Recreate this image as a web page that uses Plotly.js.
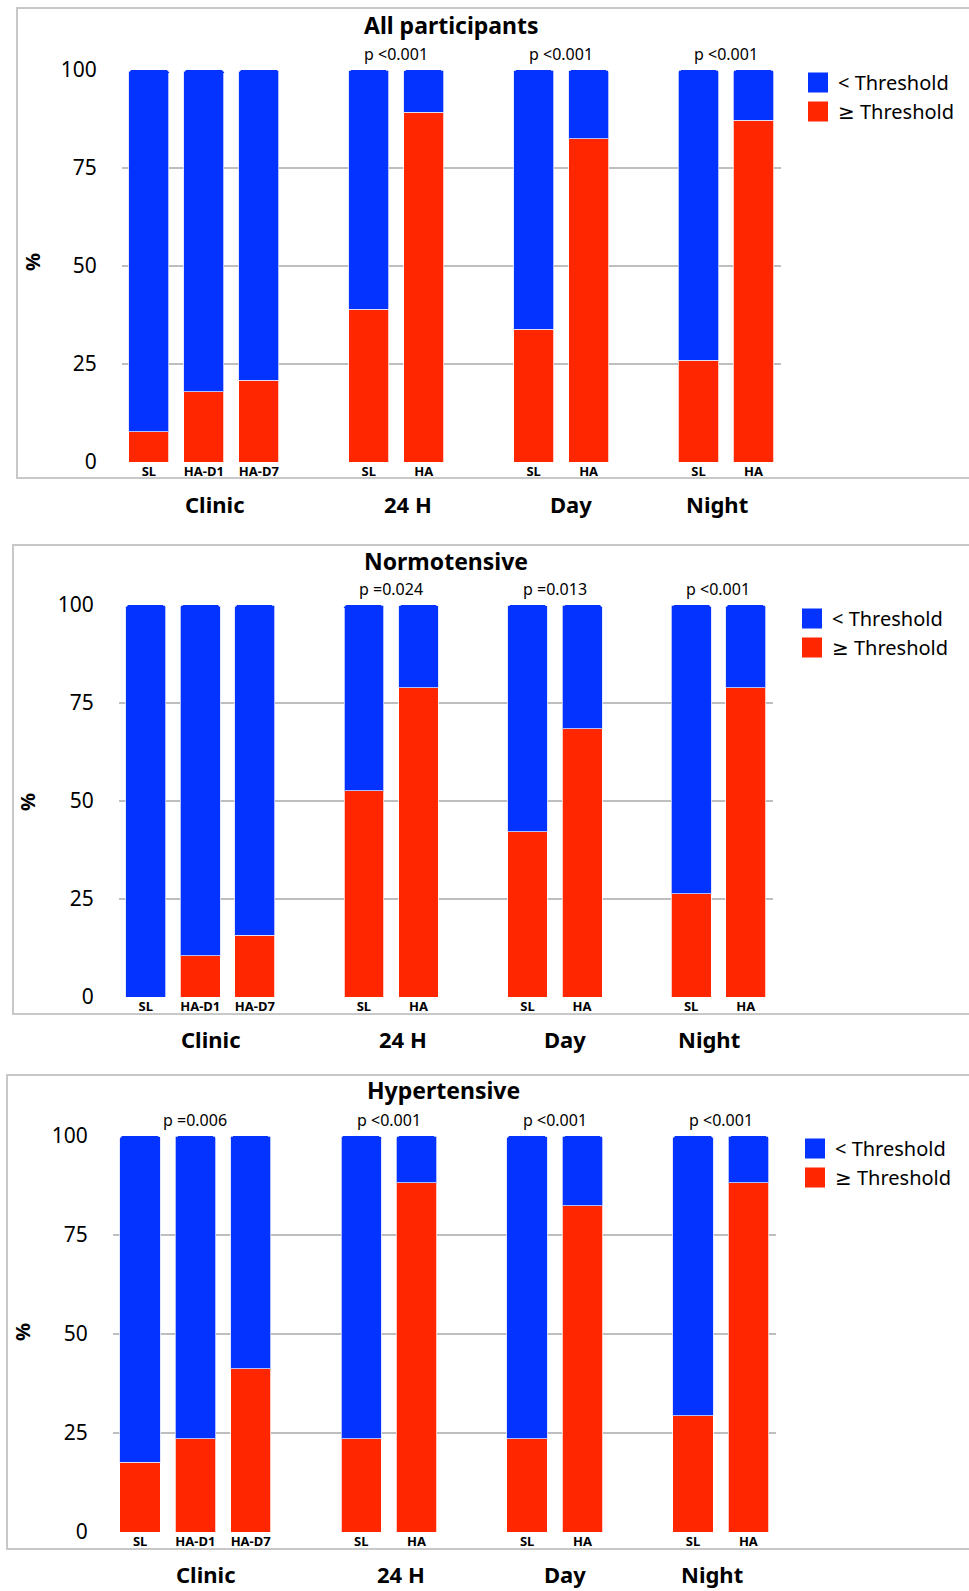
<!DOCTYPE html>
<html>
<head>
<meta charset="utf-8">
<script src="https://cdn.plot.ly/plotly-3.0.1.min.js"></script>
<style>html,body{margin:0;padding:0;background:#fff;}#chart{width:969px;height:1591px;}</style>
</head>
<body>
<div id="chart"></div>
<script>
// ---- data ----
const groups = ['Clinic', '24 H', 'Day', 'Night'];
const subLabels = [['SL', 'HA-D1', 'HA-D7'], ['SL', 'HA'], ['SL', 'HA'], ['SL', 'HA']];
const panelTitles = ['All participants', 'Normotensive', 'Hypertensive'];
const seriesNames = ['< Threshold', '≥ Threshold'];

const allBelow   = [92.3, 82.1, 79.1, 61.0, 10.8, 66.1, 17.6, 74.1, 12.8];
const allAbove   = [7.7, 17.9, 20.9, 39.0, 89.2, 33.9, 82.4, 25.9, 87.2];
const normBelow  = [100, 89.5, 84.2, 47.4, 21.1, 57.9, 31.6, 73.7, 21.1];
const normAbove  = [0, 10.5, 15.8, 52.6, 78.9, 42.1, 68.4, 26.3, 78.9];
const hyperBelow = [82.4, 76.5, 58.8, 76.5, 11.8, 76.5, 17.6, 70.6, 11.8];
const hyperAbove = [17.6, 23.5, 41.2, 23.5, 88.2, 23.5, 82.4, 29.4, 88.2];

const allP   = ['', 'p <0.001', 'p <0.001', 'p <0.001'];
const normP  = ['', 'p =0.024', 'p =0.013', 'p <0.001'];
const hyperP = ['p =0.006', 'p <0.001', 'p <0.001', 'p <0.001'];

const yTicks = [0, 25, 50, 75, 100];
const gridVals = [25, 50, 75];

// ---- styling / layout ----
const W = 969, H = 1591;
const FONT = 'Noto Sans, DejaVu Sans, sans-serif';
const BLUE = '#0433FF', RED = '#FF2600';
const groupLabelShift = [11, 12, 10, -9]; // px offsets of group captions

const panels = [
  {below: allBelow, above: allAbove, p: allP, title: panelTitles[0],
   xpx: [122, 781], ypx: [70, 462], frame: [17, 8, 478], titlePos: [451, 25], pctPos: [32, 262], legPos: [798, 63]},
  {below: normBelow, above: normAbove, p: normP, title: panelTitles[1],
   xpx: [119, 773], ypx: [605, 997], frame: [13, 545, 1014], titlePos: [446, 561], pctPos: [27, 802], legPos: [792, 599]},
  {below: hyperBelow, above: hyperAbove, p: hyperP, title: panelTitles[2],
   xpx: [113, 776], ypx: [1136, 1532], frame: [7, 1075, 1549], titlePos: [443, 1090], pctPos: [22, 1332], legPos: [795, 1129]}
];

// bar positions derived from group structure (one empty slot between groups)
const xs = [], tickText = [], centers = [];
let pos = 0;
groups.forEach((g, i) => {
  const start = pos;
  subLabels[i].forEach(s => { xs.push(pos); tickText.push(s); pos++; });
  centers.push((start + pos - 1) / 2);
  pos++;
});

const data = [];
const layout = {
  width: W, height: H,
  margin: {l: 0, r: 0, t: 0, b: 0},
  paper_bgcolor: '#fff', plot_bgcolor: 'rgba(0,0,0,0)',
  barmode: 'stack', bargap: 0,
  showlegend: true,
  font: {family: FONT, color: '#000'},
  shapes: [], annotations: []
};

panels.forEach((p, k) => {
  const n = k === 0 ? '' : String(k + 1);
  const xa = 'x' + n, ya = 'y' + n;
  const legName = 'legend' + n;

  data.push({
    type: 'bar', x: xs, y: p.above, xaxis: xa, yaxis: ya, width: 0.73,
    name: seriesNames[1], showlegend: false,
    marker: {color: RED, cornerradius: 3, line: {color: 'rgba(255,255,255,0.75)', width: 1}}
  });
  data.push({
    type: 'bar', x: xs, y: p.below, xaxis: xa, yaxis: ya, width: 0.73,
    name: seriesNames[0], showlegend: false,
    marker: {color: BLUE, line: {color: 'rgba(220,225,255,0.8)', width: 1}}
  });
  // legend entries
  [[seriesNames[0], BLUE], [seriesNames[1], RED]].forEach(([nm, c]) => {
    data.push({
      type: 'scatter', mode: 'markers', x: [null], y: [null], xaxis: xa, yaxis: ya,
      name: nm, legend: legName, showlegend: true,
      marker: {symbol: 'square', size: 16, color: c, line: {color: c, width: 4}}
    });
  });

  layout['xaxis' + n] = {
    domain: [p.xpx[0] / W, p.xpx[1] / W], range: [-0.49, 11.5], anchor: ya,
    tickmode: 'array', tickvals: xs, ticktext: tickText,
    tickfont: {family: FONT, size: 13, color: '#000', weight: 'bold'},
    showgrid: false, zeroline: false, showline: false, ticks: '', fixedrange: true
  };
  layout['yaxis' + n] = {
    domain: [1 - p.ypx[1] / H, 1 - p.ypx[0] / H], range: [0, 100], anchor: xa,
    tickmode: 'array', tickvals: yTicks,
    tickfont: {family: FONT, size: 21, color: '#000'},
    ticks: 'outside', ticklen: 20, tickcolor: 'rgba(0,0,0,0)',
    showgrid: false, zeroline: false, showline: false, fixedrange: true
  };
  layout[legName] = {
    x: p.legPos[0] / W, y: 1 - p.legPos[1] / H, xanchor: 'left', yanchor: 'top',
    font: {family: FONT, size: 20, color: '#000'}, bgcolor: 'rgba(0,0,0,0)',
    borderwidth: 0, itemwidth: 30, traceorder: 'normal'
  };

  // frame
  layout.shapes.push({
    type: 'rect', xref: 'paper', yref: 'paper', layer: 'below',
    x0: p.frame[0] / W, x1: 1.03, y0: 1 - p.frame[2] / H, y1: 1 - p.frame[1] / H,
    line: {color: '#c8c8c8', width: 2}, fillcolor: 'rgba(0,0,0,0)'
  });
  // gridlines
  gridVals.forEach(v => layout.shapes.push({
    type: 'line', xref: xa + ' domain', yref: ya, layer: 'below',
    x0: 0, x1: 1, y0: v, y1: v, line: {color: '#a8a8a8', width: 1.5}
  }));

  // title
  layout.annotations.push({
    xref: 'paper', yref: 'paper', x: p.titlePos[0] / W, y: 1 - p.titlePos[1] / H,
    xanchor: 'center', yanchor: 'middle', showarrow: false, text: p.title,
    font: {family: FONT, size: 23, color: '#000', weight: 'bold'}
  });
  // % axis title
  layout.annotations.push({
    xref: 'paper', yref: 'paper', x: p.pctPos[0] / W, y: 1 - p.pctPos[1] / H,
    xanchor: 'center', yanchor: 'middle', showarrow: false, text: '%', textangle: -90,
    font: {family: FONT, size: 20, color: '#000', weight: 'bold'}
  });
  groups.forEach((g, i) => {
    layout.annotations.push({
      xref: xa, yref: ya + ' domain', x: centers[i], y: -0.107, xshift: groupLabelShift[i],
      xanchor: 'center', yanchor: 'middle', showarrow: false, text: g,
      font: {family: FONT, size: 22, color: '#000', weight: 'bold'}
    });
    if (p.p[i]) {
      layout.annotations.push({
        xref: xa, yref: ya, x: centers[i], y: 100, yshift: 3,
        xanchor: 'center', yanchor: 'bottom', showarrow: false, text: p.p[i],
        font: {family: FONT, size: 16, color: '#000'}
      });
    }
  });
});

Plotly.newPlot('chart', data, layout, {staticPlot: true, displayModeBar: false});
</script>
</body>
</html>
